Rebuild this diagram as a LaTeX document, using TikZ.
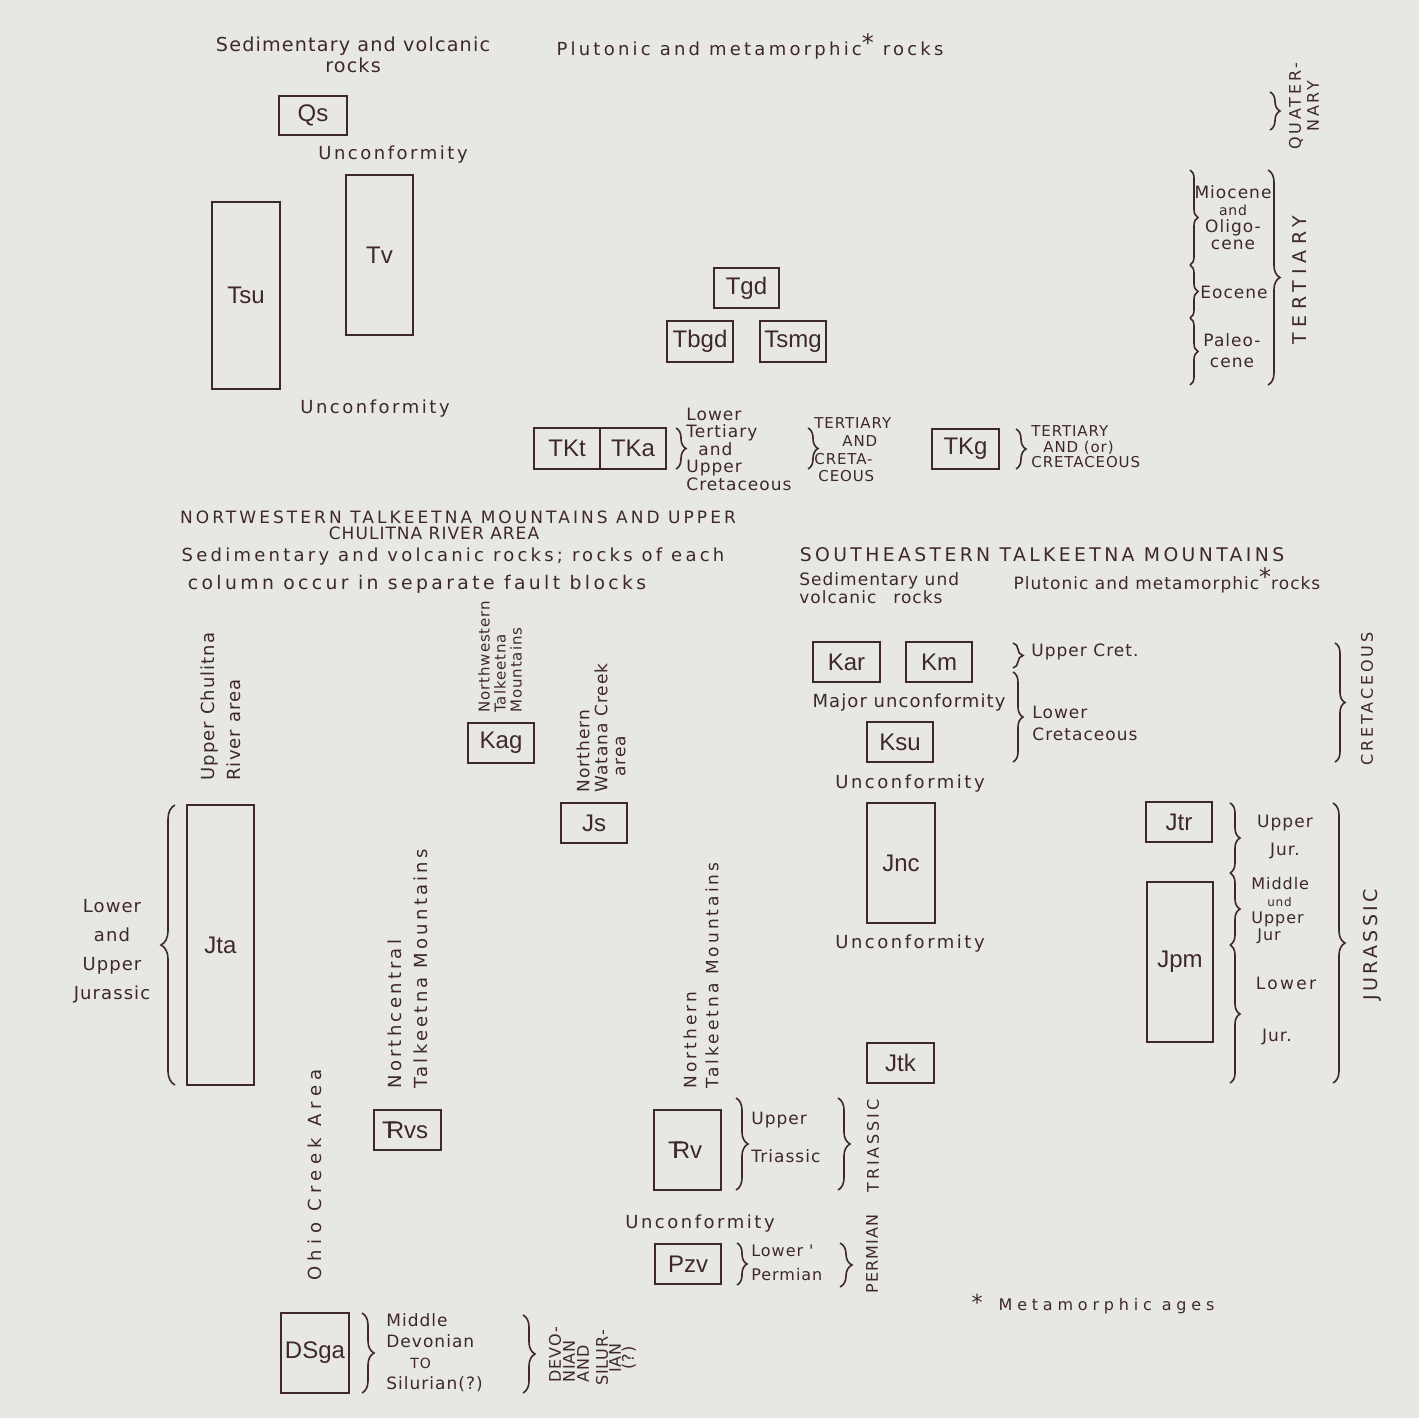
\documentclass[tikz,border=0pt]{standalone}
\usepackage{fontspec}
\setmainfont{DejaVu Sans}
\newfontfamily\handf[LetterSpace=6]{DejaVu Sans}
\newfontfamily\handm[LetterSpace=14]{DejaVu Sans}
\newfontfamily\handw[LetterSpace=18]{DejaVu Sans}
\newfontfamily\handx[LetterSpace=30]{DejaVu Sans}
\newfontfamily\boxf{Liberation Sans}
\usetikzlibrary{decorations.pathreplacing}
\definecolor{paper}{HTML}{E7E8E4}
\definecolor{ink}{HTML}{3F2828}
\newcommand\fsz[2]{\fontsize{#1}{#2}\selectfont}
\newcommand\trs{\makebox[0pt][l]{\hspace{-0.2em}T}R}
\newcommand\astr{\raisebox{2pt}{\fsz{12}{12}*}}
\begin{document}
\begin{tikzpicture}[x=0.5pt, y=-0.5pt,
  unitbox/.style={draw=ink, line width=1pt, inner sep=0pt, text=ink, font=\boxf\fsz{12}{13}},
  lab/.style={text=ink, inner sep=0pt, font=\handf\fsz{9}{10}},
  curly/.style={draw=ink, line width=0.8pt, decorate, decoration={brace, amplitude=#1}},
  curly/.default=5pt]
\fill[paper] (0,0) rectangle (1419,1418);
\useasboundingbox (0,0) rectangle (1419,1418);

% ---------- top: Tertiary/Quaternary ----------
\node[lab, align=center, font=\handf\fsz{9.6}{8.5}] (sedvol) at (353,55) {Sedimentary and volcanic\\rocks};
\node[lab, font=\handw\fsz{9}{10}] (plut) at (750,46) {Plutonic and metamorphic\astr\ rocks};
\node[unitbox, minimum width=34pt, minimum height=19.5pt] (qs) at (313,115.5) {Qs};
\node[lab, font=\handm\fsz{9}{10}] (unc1) at (393,155) {Unconformity};
\node[unitbox, minimum width=33.5pt, minimum height=80pt] (tv) at (379.5,255) {Tv};
\node[unitbox, minimum width=34pt, minimum height=93.5pt] (tsu) at (246,295.5) {Tsu};
\node[lab, font=\handm\fsz{9}{10}] (unc2) at (375,409) {Unconformity};
\node[unitbox, minimum width=32.5pt, minimum height=20pt] (tgd) at (746.5,288) {Tgd};
\node[unitbox, minimum width=33pt, minimum height=20.5pt] (tbgd) at (700,341.5) {Tbgd};
\node[unitbox, minimum width=33pt, minimum height=20.5pt] (tsmg) at (793,341.5) {Tsmg};
\node[unitbox, minimum width=33pt, minimum height=20.5pt] (tkt) at (567,448.5) {TKt};
\node[unitbox, minimum width=33pt, minimum height=20.5pt] (tka) at (633,448.5) {TKa};
\node[unitbox, minimum width=33.5pt, minimum height=20pt] (tkg) at (965.5,449) {TKg};

\draw[curly=5pt] (676,428) -- (676,469);
\node[lab, anchor=west, align=left, font=\handf\fsz{8.5}{8.75}] (lowter) at (686,449) {Lower\\Tertiary\\\hspace{6pt}and\\Upper\\Cretaceous};
\draw[curly=5pt] (808,428) -- (808,469);
\node[lab, anchor=west, align=left, font=\handf\fsz{7.5}{8.8}] (tcr) at (814,450) {TERTIARY\\\hspace{14pt}AND\\CRETA-\\\hspace{2pt}CEOUS};
\draw[curly=5pt] (1016,429) -- (1016,469);
\node[lab, anchor=west, align=left, font=\handf\fsz{7.5}{7.75}] (tkgl) at (1031,447) {TERTIARY\\\hspace{6pt}AND (or)\\CRETACEOUS};

% right time scale (Quaternary / Tertiary)
\draw[curly=5pt] (1270,92) -- (1270,130);
\node[lab, rotate=90, align=center, font=\handw\fsz{8}{9}] (quat) at (1304,106) {QUATER-\\NARY};
\draw[curly=4pt] (1190,170) -- (1190,265);
\draw[curly=4pt] (1190,265) -- (1190,318);
\draw[curly=4pt] (1190,318) -- (1190,385);
\draw[curly=6pt] (1268,170) -- (1268,385);
\node[lab, align=center, font=\handf\fsz{8.5}{8.5}] (mio) at (1233,218) {Miocene\\{\fsz{7}{7}and}\\Oligo-\\cene};
\node[lab, font=\handf\fsz{8.5}{8.5}] (eoc) at (1234,292) {Eocene};
\node[lab, align=center, font=\handf\fsz{8.5}{10.5}] (pal) at (1232,351) {Paleo-\\cene};
\node[lab, rotate=90, font=\handx\fsz{9.5}{10}] (tert) at (1300,280) {TERTIARY};

% ---------- NW header ----------
\node[lab, font=\handw\fsz{8.5}{10}] (hdr1) at (458,517) {NORTWESTERN TALKEETNA MOUNTAINS AND UPPER};
\node[lab, font=\handf\fsz{8.5}{10}] (hdr2) at (434,533) {CHULITNA RIVER AREA};
\node[lab, font=\handw\fsz{9}{10}] (sed2) at (453,557) {Sedimentary and volcanic rocks; rocks of each};
\node[lab, font=\handw\fsz{9.4}{10}] (col) at (417,584) {column occur in separate fault blocks};

% ---------- SE header ----------
\node[lab, font=\handw\fsz{9.4}{10}] (se1) at (1042,555) {SOUTHEASTERN TALKEETNA MOUNTAINS};
\node[lab, anchor=west, align=left, font=\handf\fsz{8.5}{8}] (se2) at (799,588) {Sedimentary und\\volcanic\quad rocks};
\node[lab, font=\handf\fsz{8.5}{10}] (se3) at (1167,580) {Plutonic and metamorphic\astr rocks};

% ---------- Cretaceous ----------
\node[unitbox, minimum width=33.5pt, minimum height=20pt] (kar) at (846.5,662) {Kar};
\node[unitbox, minimum width=33pt, minimum height=20pt] (km) at (939,662) {Km};
\node[lab] (major) at (909,703) {Major unconformity};
\node[unitbox, minimum width=33pt, minimum height=20pt] (ksu) at (900,742) {Ksu};
\draw[curly=5pt] (1013,643) -- (1013,668);
\draw[curly=5pt] (1013,672) -- (1013,762);
\node[lab, anchor=west, font=\handf\fsz{8.5}{10}] (ucret) at (1031,652) {Upper Cret.};
\node[lab, anchor=west, align=left, font=\handf\fsz{8.5}{11}] (lcret) at (1032,723) {Lower\\Cretaceous};
\draw[curly=5pt] (1335,643) -- (1335,762);
\node[lab, rotate=90, font=\handw\fsz{8}{10}] (cretl) at (1367,699) {CRETACEOUS};
\node[lab, font=\handm\fsz{9}{10}] (unc3) at (910,784) {Unconformity};

% ---------- Jurassic (SE) ----------
\node[unitbox, minimum width=34pt, minimum height=60pt] (jnc) at (901,863) {Jnc};
\node[lab, font=\handm\fsz{9}{10}] (unc4) at (910,944) {Unconformity};
\node[unitbox, minimum width=33.5pt, minimum height=20pt] (jtk) at (900.5,1063) {Jtk};
\node[unitbox, minimum width=33pt, minimum height=20pt] (jtr) at (1179,822) {Jtr};
\node[unitbox, minimum width=33pt, minimum height=80pt] (jpm) at (1180,962) {Jpm};
\draw[curly=5pt] (1230,803) -- (1230,873);
\draw[curly=5pt] (1230,873) -- (1230,945);
\draw[curly=5pt] (1230,945) -- (1230,1083);
\node[lab, align=center, font=\handf\fsz{8.5}{14}] (ujurl) at (1285,837) {Upper\\Jur.};
\node[lab, anchor=west, align=left, font=\handf\fsz{8}{8.5}] (mjurl) at (1251,911) {Middle\\\hspace{8pt}{\fsz{6}{6}und}\\Upper\\\hspace{3pt}Jur};
\node[lab, font=\handm\fsz{8.5}{10}] (lowl) at (1286,983) {Lower};
\node[lab, font=\handf\fsz{8.5}{10}] (jurl) at (1277,1037) {Jur.};
\draw[curly=6pt] (1333,803) -- (1333,1083);
\node[lab, rotate=90, font=\handw\fsz{9.5}{10}] (jurass) at (1372,945) {JURASSIC};

% ---------- NW columns ----------
\node[lab, rotate=90, anchor=west, align=left, font=\handf\fsz{9}{13}] (chul) at (221,781) {Upper Chulitna\\River area};
\node[unitbox, minimum width=33.5pt, minimum height=140pt] (jta) at (220.5,945) {Jta};
\draw[curly=7pt] (175,1085) -- (175,805);
\node[lab, align=center, font=\handf\fsz{9}{14.5}] (lujur) at (112,951) {Lower\\and\\Upper\\Jurassic};
\node[lab, rotate=90, anchor=west, align=left, font=\handf\fsz{7.5}{8}] (nwtm) at (500,713) {Northwestern\\Talkeetna\\Mountains};
\node[unitbox, minimum width=33pt, minimum height=20pt] (kag) at (501,743) {Kag};
\node[lab, rotate=90, anchor=west, align=left, font=\handf\fsz{8.5}{9}] (nwc) at (601,793) {Northern\\Watana Creek\\\hspace{8pt}area};
\node[unitbox, minimum width=33pt, minimum height=20pt] (js) at (594,823) {Js};
\node[lab, rotate=90, anchor=west, align=left, font=\handw\fsz{9}{13}] (nctm) at (408,1089) {Northcentral\\Talkeetna Mountains};
\node[unitbox, minimum width=33.5pt, minimum height=20pt] (rvs) at (407.5,1130) {\trs vs};
\node[lab, rotate=90, anchor=west, align=left, font=\handw\fsz{8.5}{11}] (ntm) at (701,1089) {Northern\\Talkeetna Mountains};
\node[lab, rotate=90, font=\handx\fsz{9}{10}] (ohio) at (315,1175) {Ohio Creek Area};

% ---------- Triassic / Permian ----------
\node[unitbox, minimum width=33.5pt, minimum height=40pt] (rv) at (687.5,1150) {\trs v};
\draw[curly=6pt] (736,1098) -- (736,1190);
\node[lab, anchor=west, align=left, font=\handf\fsz{8.5}{19}] (utril) at (751,1137) {Upper\\Triassic};
\draw[curly=6pt] (838,1098) -- (838,1190);
\node[lab, rotate=90, font=\handw\fsz{8}{10}] (tril) at (873,1146) {TRIASSIC};
\node[lab, font=\handm\fsz{9}{10}] (unc5) at (700,1224) {Unconformity};
\node[unitbox, minimum width=33pt, minimum height=20pt] (pzv) at (688,1264) {Pzv};
\draw[curly=5pt] (737,1243) -- (737,1285);
\node[lab, anchor=west, align=left, font=\handf\fsz{8}{12}] (lperml) at (751,1263) {Lower '\\Permian};
\draw[curly=6pt] (840,1243) -- (840,1287);
\node[lab, rotate=90, font=\handf\fsz{8}{10}] (perml) at (872,1254) {PERMIAN};

% ---------- Devonian ----------
\node[unitbox, minimum width=34pt, minimum height=40pt] (dsga) at (315,1353) {DSga};
\draw[curly=6pt] (362,1313) -- (362,1393);
\node[lab, anchor=west, align=left, font=\handf\fsz{8.5}{10.5}] (mdevl) at (386,1353) {Middle\\Devonian\\\hspace{12pt}{\fsz{7}{7}TO}\\Silurian(?)};
\draw[curly=6pt] (523,1315) -- (523,1393);
\node[lab, rotate=90, anchor=west, align=left, font=\handf\fsz{8}{7}] (devl) at (569,1383) {DEVO-\\NIAN\\AND};
\node[lab, rotate=90, align=center, font=\handf\fsz{8}{6.5}] (silr) at (616,1358) {SILUR-\\IAN\\(?)};

% ---------- footnote ----------
\node[lab, font=\handx\fsz{8}{10}] (meta) at (1093,1304) {{\fsz{11}{11}*}\quad Metamorphic ages};
\end{tikzpicture}
\end{document}
